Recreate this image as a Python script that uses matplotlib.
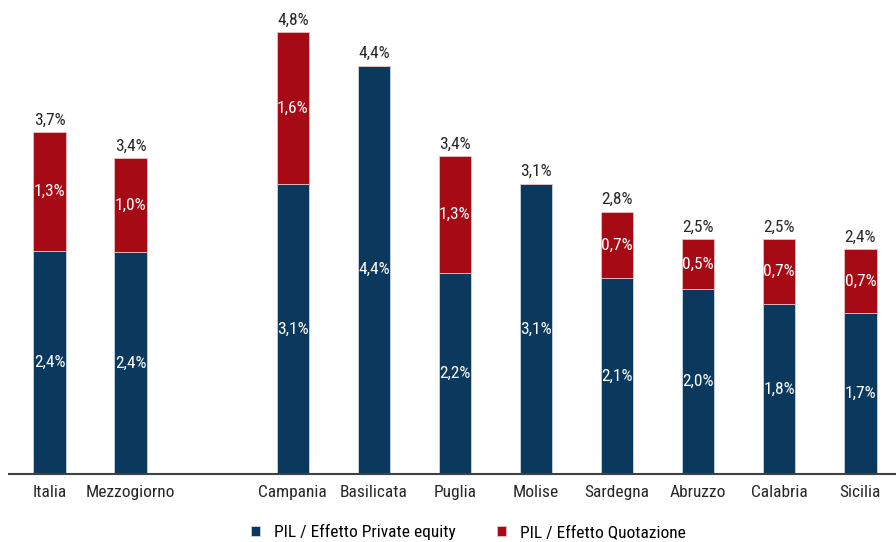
import matplotlib
matplotlib.use("Agg")
import matplotlib.pyplot as plt

plt.rcParams['font.family'] = ['Liberation Sans Narrow', 'Roboto Condensed', 'DejaVu Sans']
plt.rcParams['font.stretch'] = 'condensed'

regioni = ["Italia", "Mezzogiorno", "Campania", "Basilicata", "Puglia",
           "Molise", "Sardegna", "Abruzzo", "Calabria", "Sicilia"]
posizioni = [0, 1, 3, 4, 5, 6, 7, 8, 9, 10]
private_equity = [2.41, 2.40, 3.14, 4.42, 2.18, 3.14, 2.12, 2.00, 1.84, 1.74]
quotazione = [1.29, 1.02, 1.64, 0.0, 1.26, 0.0, 0.72, 0.54, 0.70, 0.69]

BLU = "#0b395d"
ROSSO = "#a50a15"


def fmt(v):
    return ("%.1f%%" % v).replace(".", ",")


fig = plt.figure(figsize=(8.96, 5.42), dpi=100)
ax = fig.add_axes([9 / 896, 68 / 542, 1 - 9 / 896, (474 - 12) / 542])

b1 = ax.bar(posizioni, private_equity, width=0.4, color=BLU,
            edgecolor="#c9d6e3", linewidth=0.6, label="PIL / Effetto Private equity")
b2 = ax.bar(posizioni, quotazione, width=0.4, bottom=private_equity, color=ROSSO,
            edgecolor="#e8c0c0", linewidth=0.6, label="PIL / Effetto Quotazione")

for x, pe, q in zip(posizioni, private_equity, quotazione):
    ax.text(x, pe / 2, fmt(pe), ha="center", va="center", color="white", fontsize=12.5)
    if q > 0:
        ax.text(x, pe + q / 2, fmt(q), ha="center", va="center", color="white", fontsize=12.5)
    ax.text(x, pe + q + 0.05, fmt(pe + q), ha="center", va="bottom", color="#262626", fontsize=12.5)

ax.set_xlim(-0.5, 10.44)
ax.set_ylim(0, 5.0)
ax.set_xticks(posizioni)
ax.set_xticklabels(regioni, fontsize=12.5, color="#262626")
ax.tick_params(axis="x", length=0, pad=8)
ax.set_yticks([])
for s in ["top", "right", "left"]:
    ax.spines[s].set_visible(False)
ax.spines["bottom"].set_color("#404040")
ax.spines["bottom"].set_linewidth(1.5)

fig.legend(handles=[b1, b2], loc="lower center", bbox_to_anchor=(0.523, -0.025), ncol=2,
           frameon=False, fontsize=12.5, handlelength=0.5, handleheight=0.5,
           columnspacing=2.4, handletextpad=0.8)

fig.savefig("out.png", dpi=100)
